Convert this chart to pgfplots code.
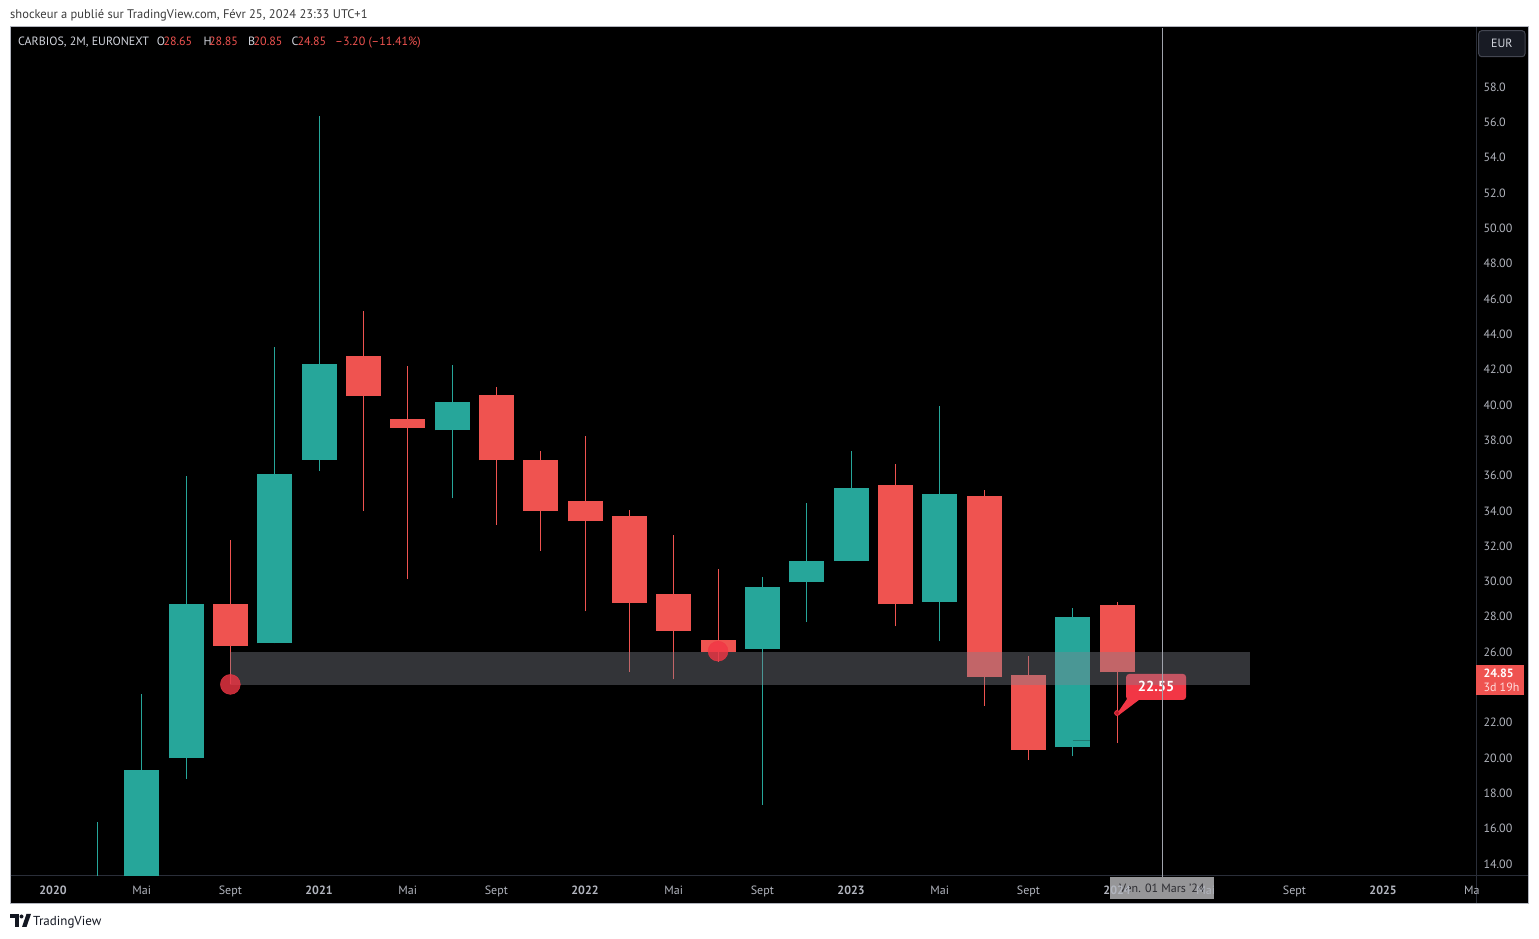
\documentclass[border=0pt]{standalone}
\usepackage{fontspec}
\setmainfont{PT Sans}
\usepackage{pgfplots}
\pgfplotsset{compat=1.18}
\usepackage{pgfplotstable}
\definecolor{bull}{RGB}{38,166,154}
\definecolor{bear}{RGB}{239,83,80}
\definecolor{tvred}{RGB}{242,54,69}
\definecolor{axtxt}{RGB}{178,181,190}
\definecolor{lgtxt}{RGB}{209,212,220}
\definecolor{sepc}{RGB}{42,46,57}
\definecolor{bandc}{RGB}{128,130,142}
\definecolor{hdr}{RGB}{60,60,60}
\definecolor{framec}{RGB}{178,181,190}
\definecolor{darkteal}{RGB}{30,120,112}
\definecolor{crossc}{RGB}{160,163,172}
\definecolor{tboxc}{RGB}{150,150,152}
\definecolor{tboxtxt}{RGB}{45,45,50}
\definecolor{dotc}{RGB}{190,30,45}
\definecolor{eurfill}{RGB}{24,27,36}
\definecolor{eurdraw}{RGB}{67,70,81}
\definecolor{pinktxt}{RGB}{255,222,222}
\definecolor{tvlogo}{RGB}{19,23,34}

% candles: x = months since Jan 2020 (2-month candles)
\pgfplotstableread{
x o h l c
2 9.5 16.4 9.0 13.0
4 13.0 23.6 12.6 19.35
6 20.0 36.0 18.8 28.7
10 26.5 43.3 26.5 36.1
12 36.9 56.35 36.25 42.3
18 38.55 42.25 34.7 40.15
32 26.2 30.25 17.35 29.7
34 29.95 34.45 27.7 31.15
36 31.15 37.4 31.15 35.3
40 28.85 39.95 26.6 34.95
46 20.6 28.5 20.1 28.0
}\bulltab
\pgfplotstableread{
x o h l c
8 28.7 32.35 24.2 26.35
14 42.75 45.3 34.0 40.5
16 39.2 42.2 30.15 38.7
20 40.55 41.0 33.2 36.85
22 36.9 37.4 31.75 34.0
24 34.55 38.25 28.3 33.4
26 33.7 34.05 24.9 28.8
28 29.3 32.65 24.45 27.2
30 26.7 30.7 25.45 26.0
38 35.45 36.65 27.45 28.7
42 34.85 35.2 22.95 24.6
44 24.7 25.8 19.9 20.45
48 28.65 28.85 20.85 24.85
}\beartab

\begin{document}
\begin{tikzpicture}
% page
\fill[white] (0pt,0pt) rectangle (1539pt,939pt);
% header
\node[anchor=base west, inner sep=0pt, text=hdr, font=\fontsize{12.5}{15}\selectfont] at (10pt,920pt) {shockeur a publié sur TradingView.com, Févr 25, 2024 23:33 UTC+1};
% chart frame
\fill[black] (10pt,35.5pt) rectangle (1528.5pt,912pt);
\draw[framec, line width=1pt] (10pt,35.5pt) rectangle (1528.5pt,912pt);
\draw[sepc, line width=1pt] (1476pt,911.5pt) -- (1476pt,36pt);
\draw[sepc, line width=1pt] (10.5pt,63pt) -- (1528pt,63pt);
% time-axis crosshair label box (under tick labels)
\fill[tboxc] (1110pt,40pt) rectangle (1214pt,62pt);
\node[inner sep=0pt, text=tboxtxt, font=\fontsize{12}{14}\selectfont] at (1162pt,50.5pt) {Ven. 01 Mars '24};

\begin{axis}[
  at={(11pt,63pt)}, anchor=south west,
  width=1465pt, height=848pt, scale only axis,
  xmin=-1.8947, xmax=64.195, ymin=13.3205, ymax=61.342,
  axis line style={draw=none}, tick style={draw=none}, major tick length=0pt,
  xtick={0,4,...,64},
  xticklabels={\textbf{2020},Mai,Sept,\textbf{2021},Mai,Sept,\textbf{2022},Mai,Sept,\textbf{2023},Mai,Sept,\textbf{2024},Mai,Sept,\textbf{2025},Ma},
  ytick={14,16,...,58},
  yticklabels={14.00,16.00,18.00,20.00,22.00,24.00,26.00,28.00,30.00,32.00,34.00,36.00,38.00,40.00,42.00,44.00,46.00,48.00,50.00,52.0,54.0,56.0,58.0},
  yticklabel pos=right,
  ticklabel style={font=\fontsize{12}{14}\selectfont, text=axtxt, inner sep=0pt},
  yticklabel style={anchor=west, xshift=7.3pt},
  xticklabel style={anchor=base, yshift=-18.5pt},
  clip=true,
]
% wicks
\addplot[draw=none, mark=none, error bars/.cd, y dir=plus, y explicit, error mark=none,
  error bar style={draw=bull, line width=1pt}]
  table[x=x, y=l, y error plus expr=\thisrow{h}-\thisrow{l}] {\bulltab};
\addplot[draw=none, mark=none, error bars/.cd, y dir=plus, y explicit, error mark=none,
  error bar style={draw=bear, line width=1pt}]
  table[x=x, y=l, y error plus expr=\thisrow{h}-\thisrow{l}] {\beartab};
% bodies
\addplot[draw=none, mark=none, error bars/.cd, y dir=plus, y explicit, error mark=none,
  error bar style={draw=bull, line width=35pt}]
  table[x=x, y=o, y error plus expr=\thisrow{c}-\thisrow{o}] {\bulltab};
\addplot[draw=none, mark=none, error bars/.cd, y dir=plus, y explicit, error mark=none,
  error bar style={draw=bear, line width=35pt}]
  table[x=x, y=c, y error plus expr=\thisrow{o}-\thisrow{c}] {\beartab};
% small leftover line on Nov 2023 candle
\addplot[darkteal, line width=1.5pt, mark=none] coordinates {(46,20.98) (46.79,20.98)};
% callout 22.55
\fill[tvred] (axis cs:48.0,22.52) -- (axis cs:48.45,23.35) -- (axis cs:49.05,23.35) -- (axis cs:48.1,22.45) -- cycle;
\fill[tvred, rounded corners=3pt] (axis cs:48.41,23.29) rectangle (axis cs:51.11,24.76);
\addplot[only marks, mark=*, mark size=2.5pt, mark options={fill=dotc, draw=tvred, line width=0.8pt}] coordinates {(48,22.55)};
% support band
\fill[bandc, fill opacity=0.4] (axis cs:8,24.13) rectangle (axis cs:54,26.0);
% circles
\addplot[only marks, mark=*, mark size=10pt, color=tvred, mark options={draw=none, fill=tvred, opacity=0.8}] coordinates {(8,24.17) (30,26.05)};
\node[inner sep=0pt, text=white, font=\bfseries\fontsize{14.5}{16}\selectfont] at (axis cs:49.76,24.06) {22.55};
\end{axis}

% crosshair
\draw[crossc, line width=1pt] (1162.3pt,911pt) -- (1162.3pt,62pt);
% legend line
\begin{scope}[every node/.style={anchor=base west, inner sep=0pt, font=\fontsize{12}{14}\selectfont}]
\node[text=lgtxt] at (18pt,893.5pt) {CARBIOS, 2M, EURONEXT};
\node[text=lgtxt] at (156.7pt,893.5pt) {O};
\node[text=bear] at (163.3pt,893.5pt) {28.65};
\node[text=lgtxt] at (203.3pt,893.5pt) {H};
\node[text=bear] at (209pt,893.5pt) {28.85};
\node[text=lgtxt] at (248pt,893.5pt) {B};
\node[text=bear] at (253.5pt,893.5pt) {20.85};
\node[text=lgtxt] at (291.3pt,893.5pt) {C};
\node[text=bear] at (297.3pt,893.5pt) {24.85};
\node[text=bear] at (335pt,893.5pt) {–3.20 (–11.41\%)};
\end{scope}
% EUR button
\draw[fill=eurfill, draw=eurdraw, line width=1pt, rounded corners=3pt] (1478.7pt,882.3pt) rectangle (1525pt,908.3pt);
\node[inner sep=0pt, text=lgtxt, font=\fontsize{12}{14}\selectfont] at (1501.8pt,895.3pt) {EUR};
% last price box
\fill[bear] (1476pt,243.5pt) rectangle (1523.7pt,274pt);
\node[anchor=base west, inner sep=0pt, text=white, font=\bfseries\fontsize{12}{14}\selectfont] at (1483.3pt,261.3pt) {24.85};
\node[anchor=base west, inner sep=0pt, text=pinktxt, font=\fontsize{12}{14}\selectfont] at (1483.3pt,247.3pt) {3d 19h};
% footer logo
\fill[tvlogo] (10pt,21pt) rectangle (19pt,25pt);
\fill[tvlogo] (14.5pt,12pt) rectangle (18.5pt,21pt);
\fill[tvlogo] (21.5pt,22.5pt) circle (2pt);
\fill[tvlogo] (22pt,12pt) -- (26.5pt,25pt) -- (31pt,25pt) -- (26.5pt,12pt) -- cycle;
\node[anchor=base west, inner sep=0pt, text=tvlogo, font=\fontsize{13}{15}\selectfont] at (33pt,13.5pt) {TradingView};
\end{tikzpicture}
\end{document}
